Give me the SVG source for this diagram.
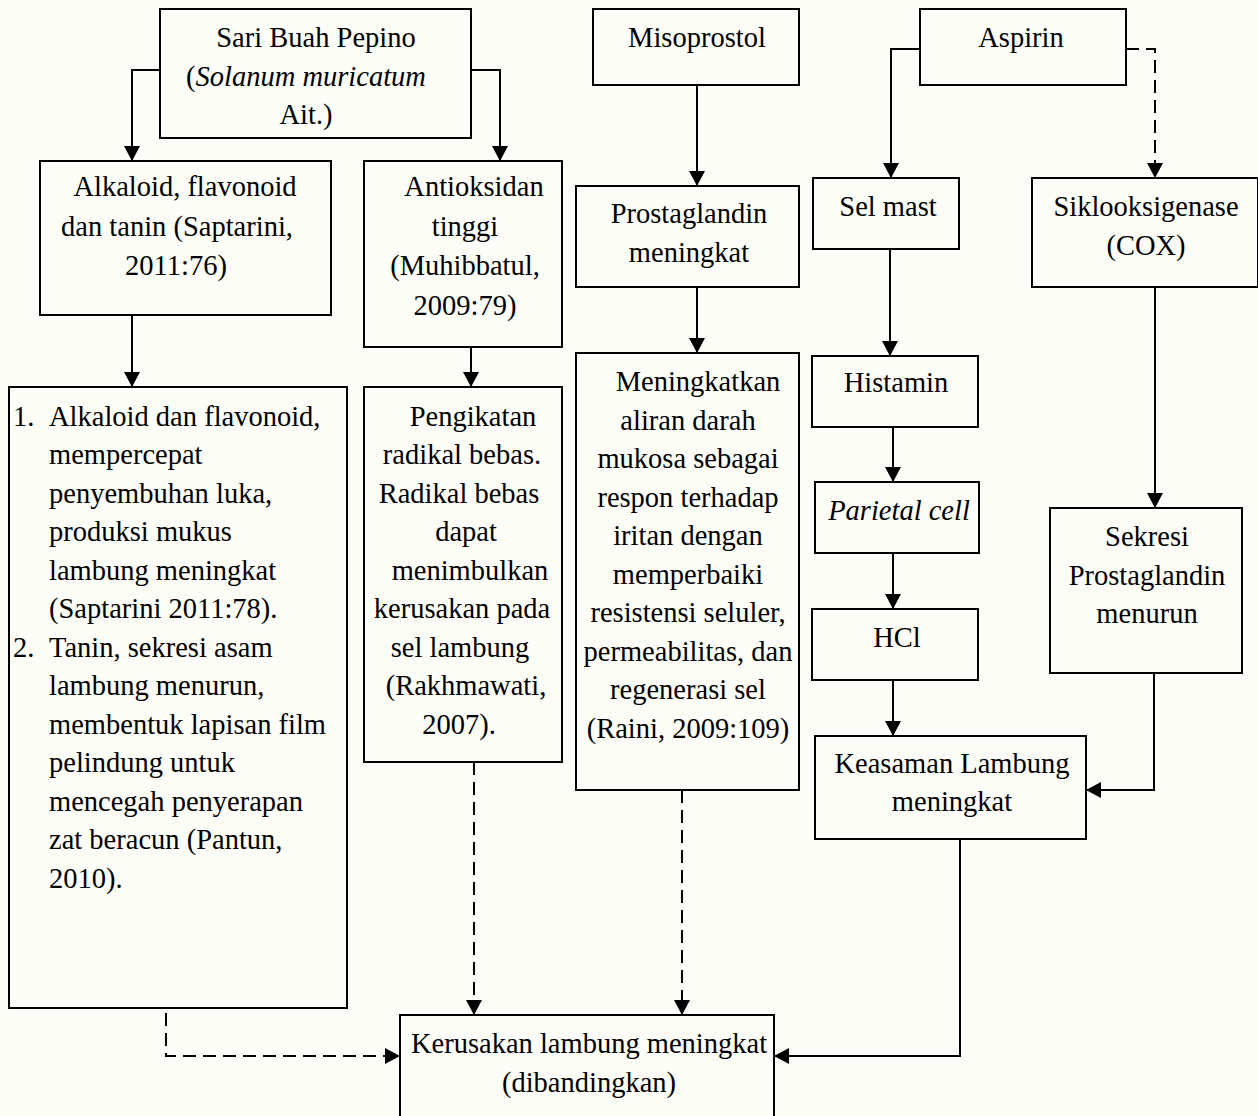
<svg xmlns="http://www.w3.org/2000/svg" width="1258" height="1116" viewBox="0 0 1258 1116">
<style>
.box{fill:#fdfdf8;stroke:#000;stroke-width:2}
text{font-family:"Liberation Serif","Times New Roman",serif;font-size:28.5px;fill:#000}
.c{text-anchor:middle}
.it{font-style:italic}
.ln{fill:none;stroke:#000;stroke-width:2}
.ds{stroke-dasharray:13,7}
</style>
<defs>
<marker id="ah" markerUnits="userSpaceOnUse" markerWidth="15" markerHeight="16" refX="15" refY="8" orient="auto" viewBox="0 0 15 16">
<path d="M0,0 L15,8 L0,16 z" fill="#000"/>
</marker>
</defs>
<rect width="1258" height="1116" fill="#fdfdf8"/>
<g id="connectors">
<path class="ln" d="M160,70 H132 V161" marker-end="url(#ah)"/>
<path class="ln" d="M471,70 H500 V161" marker-end="url(#ah)"/>
<path class="ln" d="M132,315 V387" marker-end="url(#ah)"/>
<path class="ln" d="M471,347 V387" marker-end="url(#ah)"/>
<path class="ln" d="M697,85 V186" marker-end="url(#ah)"/>
<path class="ln" d="M697,287 V353" marker-end="url(#ah)"/>
<path class="ln" d="M920,49 H891 V178" marker-end="url(#ah)"/>
<path class="ln ds" d="M1126,49 H1155 V178" marker-end="url(#ah)"/>
<path class="ln" d="M890,249 V356" marker-end="url(#ah)"/>
<path class="ln" d="M893,427 V482" marker-end="url(#ah)"/>
<path class="ln" d="M893,553 V609" marker-end="url(#ah)"/>
<path class="ln" d="M893,680 V736" marker-end="url(#ah)"/>
<path class="ln" d="M1155,287 V508" marker-end="url(#ah)"/>
<path class="ln" d="M1154,673 V790 H1086" marker-end="url(#ah)"/>
<path class="ln" d="M960,839 V1056 H774" marker-end="url(#ah)"/>
<path class="ln ds" d="M474,762 V1015" marker-end="url(#ah)"/>
<path class="ln ds" d="M682,790 V1015" marker-end="url(#ah)"/>
<path class="ln ds" d="M166,1013 V1056 H400" marker-end="url(#ah)"/>
</g>
<g id="sari">
<rect class="box" x="160" y="9" width="311" height="129"/>
<text class="c" x="316" y="47">Sari Buah Pepino</text>
<text class="c" x="306" y="86">(<tspan class="it">Solanum muricatum</tspan></text>
<text class="c" x="306" y="124">Ait.)</text>
</g>
<g id="alkaloid">
<rect class="box" x="40" y="161" width="291" height="154"/>
<text class="c" x="185" y="196">Alkaloid, flavonoid</text>
<text class="c" x="177" y="236">dan tanin (Saptarini,</text>
<text class="c" x="176" y="275">2011:76)</text>
</g>
<g id="antioksidan">
<rect class="box" x="364" y="161" width="198" height="186"/>
<text class="c" x="474" y="196">Antioksidan</text>
<text class="c" x="465" y="236">tinggi</text>
<text class="c" x="465" y="275">(Muhibbatul,</text>
<text class="c" x="465" y="315">2009:79)</text>
</g>
<g id="misoprostol">
<rect class="box" x="593" y="9" width="206" height="76"/>
<text class="c" x="697" y="47">Misoprostol</text>
</g>
<g id="prostaglandin">
<rect class="box" x="576" y="186" width="223" height="101"/>
<text class="c" x="689" y="223">Prostaglandin</text>
<text class="c" x="689" y="262">meningkat</text>
</g>
<g id="aspirin">
<rect class="box" x="920" y="9" width="206" height="76"/>
<text class="c" x="1021" y="47">Aspirin</text>
</g>
<g id="selmast">
<rect class="box" x="813" y="178" width="146" height="71"/>
<text class="c" x="888" y="216">Sel mast</text>
</g>
<g id="siklooksigenase">
<rect class="box" x="1032" y="178" width="226" height="109"/>
<text class="c" x="1146" y="216">Siklooksigenase</text>
<text class="c" x="1146" y="255">(COX)</text>
</g>
<g id="mekanisme">
<rect class="box" x="9" y="387" width="338" height="621"/>
<text x="13" y="426">1.</text>
<text x="49" y="426">Alkaloid dan flavonoid,</text>
<text x="49" y="464">mempercepat</text>
<text x="49" y="503">penyembuhan luka,</text>
<text x="49" y="541">produksi mukus</text>
<text x="49" y="580">lambung meningkat</text>
<text x="49" y="618">(Saptarini 2011:78).</text>
<text x="13" y="657">2.</text>
<text x="49" y="657">Tanin, sekresi asam</text>
<text x="49" y="695">lambung menurun,</text>
<text x="49" y="734">membentuk lapisan film</text>
<text x="49" y="772">pelindung untuk</text>
<text x="49" y="811">mencegah penyerapan</text>
<text x="49" y="849">zat beracun (Pantun,</text>
<text x="49" y="888">2010).</text>
</g>
<g id="pengikatan">
<rect class="box" x="364" y="387" width="198" height="375"/>
<text class="c" x="473" y="426">Pengikatan</text>
<text class="c" x="462" y="464">radikal bebas.</text>
<text class="c" x="459" y="503">Radikal bebas</text>
<text class="c" x="466" y="541">dapat</text>
<text class="c" x="470" y="580">menimbulkan</text>
<text class="c" x="462" y="618">kerusakan pada</text>
<text class="c" x="460" y="657">sel lambung</text>
<text class="c" x="466" y="695">(Rakhmawati,</text>
<text class="c" x="459" y="734">2007).</text>
</g>
<g id="meningkatkan">
<rect class="box" x="576" y="353" width="223" height="437"/>
<text class="c" x="698" y="391">Meningkatkan</text>
<text class="c" x="688" y="430">aliran darah</text>
<text class="c" x="688" y="468">mukosa sebagai</text>
<text class="c" x="688" y="507">respon terhadap</text>
<text class="c" x="688" y="545">iritan dengan</text>
<text class="c" x="688" y="584">memperbaiki</text>
<text class="c" x="688" y="622">resistensi seluler,</text>
<text class="c" x="688" y="661">permeabilitas, dan</text>
<text class="c" x="688" y="699">regenerasi sel</text>
<text class="c" x="688" y="738">(Raini, 2009:109)</text>
</g>
<g id="histamin">
<rect class="box" x="812" y="356" width="166" height="71"/>
<text class="c" x="896" y="392">Histamin</text>
</g>
<g id="parietal">
<rect class="box" x="815" y="482" width="164" height="71"/>
<text class="c it" x="899" y="520">Parietal cell</text>
</g>
<g id="hcl">
<rect class="box" x="812" y="609" width="166" height="71"/>
<text class="c" x="897" y="647">HCl</text>
</g>
<g id="sekresi">
<rect class="box" x="1050" y="508" width="192" height="165"/>
<text class="c" x="1147" y="546">Sekresi</text>
<text class="c" x="1147" y="585">Prostaglandin</text>
<text class="c" x="1147" y="623">menurun</text>
</g>
<g id="keasaman">
<rect class="box" x="815" y="736" width="271" height="103"/>
<text class="c" x="952" y="773">Keasaman Lambung</text>
<text class="c" x="952" y="811">meningkat</text>
</g>
<g id="kerusakan">
<rect class="box" x="400" y="1015" width="374" height="110"/>
<text class="c" x="589" y="1053">Kerusakan lambung meningkat</text>
<text class="c" x="589" y="1092">(dibandingkan)</text>
</g>
</svg>
